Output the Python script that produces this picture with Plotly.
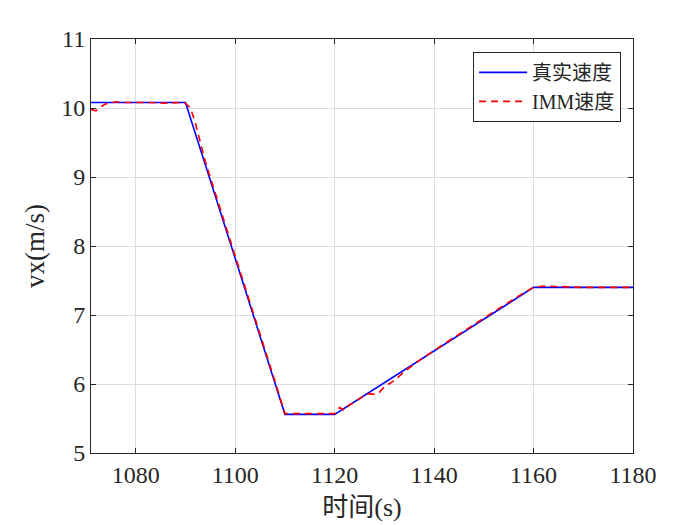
import plotly.graph_objects as go

# True velocity (breakpoints)
true_t = [1071, 1090, 1110, 1120, 1160, 1180]
true_v = [10.08, 10.08, 5.56, 5.56, 7.40, 7.40]

# IMM estimated velocity
imm_t = [1071, 1072, 1073, 1074, 1076, 1078, 1082, 1086, 1089, 1090, 1091, 1092,
         1094, 1096, 1100, 1104, 1108, 1110, 1114, 1118, 1120, 1121, 1122, 1123,
         1124, 1126, 1127, 1128, 1129, 1130, 1132, 1134, 1138, 1142, 1146, 1150,
         1154, 1158, 1160, 1162, 1166, 1170, 1175, 1180]
imm_v = [9.98, 9.96, 10.02, 10.06, 10.09, 10.08, 10.08, 10.07, 10.08, 10.07, 10.00, 9.78,
         9.22, 8.77, 7.85, 6.95, 6.04, 5.57, 5.57, 5.57, 5.57, 5.66, 5.62, 5.70,
         5.73, 5.84, 5.86, 5.85, 5.88, 5.96, 6.05, 6.18, 6.39, 6.58, 6.77, 6.95,
         7.14, 7.32, 7.40, 7.42, 7.41, 7.40, 7.40, 7.40]

x_ticks = [1080, 1100, 1120, 1140, 1160, 1180]
y_ticks = [5, 6, 7, 8, 9, 10, 11]

FONT = "'Liberation Serif', 'Noto Sans CJK SC', serif"

fig = go.Figure()
fig.add_trace(go.Scatter(x=true_t, y=true_v, mode="lines", name="真实速度",
                         line=dict(color="#0000ff", width=1.6)))
fig.add_trace(go.Scatter(x=imm_t, y=imm_v, mode="lines", name="IMM速度",
                         line=dict(color="#ff0000", width=1.6, dash="7px,5px")))

axis_common = dict(showline=True, linecolor="#262626", linewidth=1, mirror="ticks",
                   ticks="inside", ticklen=5, tickcolor="#262626",
                   showgrid=True, gridcolor="#dcdcdc", gridwidth=1, zeroline=False,
                   tickfont=dict(family=FONT, size=24, color="#262626"))

fig.update_xaxes(range=[1071, 1180], tickvals=x_ticks,
                 title=dict(text="时间(s)", font=dict(family=FONT, size=26, color="#262626"), standoff=11),
                 **axis_common)
fig.update_yaxes(range=[5, 11], tickvals=y_ticks,
                 title=dict(text="vx(m/s)", font=dict(family=FONT, size=27, color="#262626"), standoff=8),
                 **axis_common)

fig.update_layout(
    width=700, height=525,
    margin=dict(l=83, r=75, t=31, b=80),
    plot_bgcolor="white", paper_bgcolor="white",
    font=dict(family=FONT, color="#262626"),
    legend=dict(x=0.978, y=0.969, xanchor="right", yanchor="top",
                bgcolor="white", bordercolor="#262626", borderwidth=1,
                font=dict(family=FONT, size=20, color="#262626"),
                tracegroupgap=0, itemwidth=48),
    showlegend=True,
)

fig.write_html("out.html")
